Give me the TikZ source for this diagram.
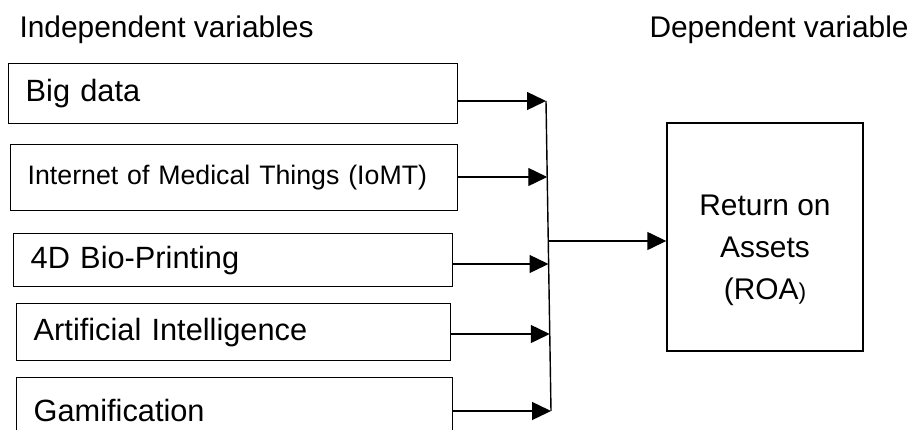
\documentclass[tikz,border=0pt]{standalone}
\usepackage{fontspec}
\setmainfont{Liberation Sans}
\usetikzlibrary{arrows.meta}

\begin{document}
\begin{tikzpicture}[line width=0.8pt,
    head/.style={anchor=base west,font=\fontsize{17}{20}\selectfont},
    ivar/.style={draw,rectangle,anchor=north west,align=left,inner xsep=0.34cm,inner ysep=0pt,font=\fontsize{17.5}{20}\selectfont},
    link/.style={draw,-{Triangle[length=0.38cm,width=0.36cm]}}
]
    \useasboundingbox (0,0) rectangle (18.18,-8.6);

    \node[head] (indep) at (0.26,-0.74) {Independent variables};
    \node[head] (dep) at (12.86,-0.74) {Dependent variable};

    % independent variables
    \node[ivar,text width=8.30cm,minimum height=1.20cm] (big) at (0.16,-1.26) {Big data};
    \node[ivar,text width=8.26cm,minimum height=1.32cm,font=\fontsize{15.2}{18}\selectfont] (iomt) at (0.20,-2.88) {Internet of Medical Things (IoMT)};
    \node[ivar,text width=8.10cm,minimum height=1.06cm] (bio) at (0.26,-4.66) {4D Bio-Printing};
    \node[ivar,text width=8.00cm,minimum height=1.14cm] (ai) at (0.32,-6.06) {Artificial Intelligence};
    \node[ivar,text width=8.04cm,minimum height=1.30cm] (gam) at (0.32,-7.54) {Gamification};

    % dependent variable
    \node[draw,rectangle,minimum width=3.92cm,minimum height=4.56cm,
        label={[align=center,yshift=-0.26cm,font=\fontsize{17}{23.9}\selectfont]center:Return on\\Assets\\(ROA{\fontsize{13}{13}\selectfont)}}] (roa) at (15.3,-4.74) {};

    % bus
    \coordinate (j1) at (10.92,-2.02);
    \coordinate (j2) at (10.945,-3.54);
    \coordinate (j3) at (10.97,-5.28);
    \coordinate (j4) at (10.995,-6.68);
    \coordinate (j5) at (11.02,-8.22);
    \coordinate (jm) at (10.965,-4.82);

    \draw (j1) -- (j5);
    \foreach \n/\j in {big/j1,iomt/j2,bio/j3,ai/j4,gam/j5}
        \draw[link] (\j -| \n.east) -- (\j);
    \draw[link] (jm) -- (jm -| roa.west);

\end{tikzpicture}
\end{document}
